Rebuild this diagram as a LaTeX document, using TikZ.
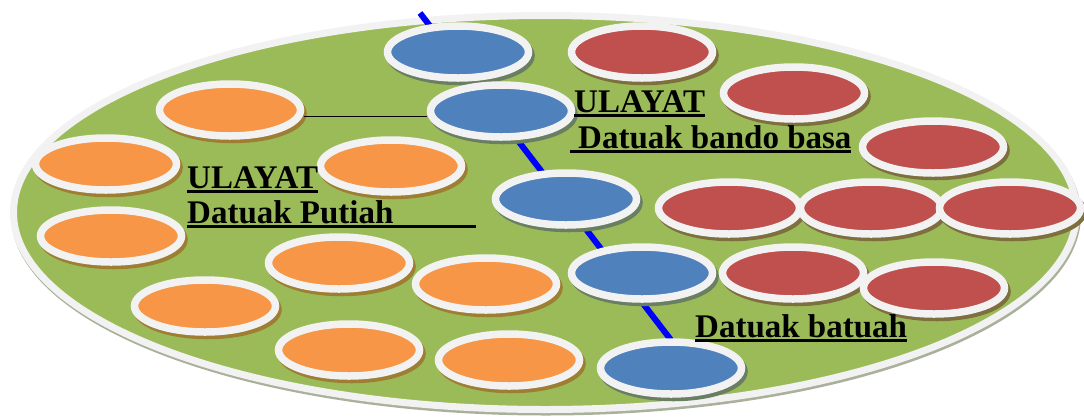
\documentclass[tikz,border=0pt]{standalone}
\usepackage{fontspec}
\setmainfont{Liberation Serif}
\usetikzlibrary{shapes.geometric}
\definecolor{plate}{HTML}{9BBB59}
\definecolor{rim}{HTML}{F2F2F2}
\definecolor{plateshadow}{HTML}{A9B19B}
\definecolor{ofill}{HTML}{F79646}
\definecolor{oshadow}{HTML}{9E7E33}
\definecolor{bfill}{HTML}{4F81BD}
\definecolor{bshadow}{HTML}{6A7E62}
\definecolor{rfill}{HTML}{C0504D}
\definecolor{rshadow}{HTML}{7E6F3E}
\definecolor{pathblue}{HTML}{0000FF}
\newcommand\ulw[2]{\rlap{\rule[-5pt]{#1}{2.8pt}}#2}
\newcommand\ulnat[1]{\setbox0=\hbox{#1}\rlap{\rule[-5pt]{\wd0}{2.8pt}}\box0}
\begin{document}
\begin{tikzpicture}[x=1pt,y=-1pt,
  disc/.style={ellipse, draw=rim, line width=7.5pt, minimum width=141pt, minimum height=52pt, inner sep=0pt},
  odisc/.style={disc, fill=ofill, preaction={draw=oshadow, fill=oshadow, transform canvas={shift={(2.5pt,-3.5pt)}}}},
  bdisc/.style={disc, fill=bfill, preaction={draw=bshadow, fill=bshadow, transform canvas={shift={(2.5pt,-3.5pt)}}}},
  rdisc/.style={disc, fill=rfill, preaction={draw=rshadow, fill=rshadow, transform canvas={shift={(2.5pt,-3.5pt)}}}},
  lbl/.style={anchor=base west, inner sep=0pt, font=\bfseries\fontsize{33}{38}\selectfont},
  blueline/.style={draw=pathblue, line width=6pt},
  thinline/.style={draw=black, line width=1.3pt}]
\useasboundingbox (0,0) rectangle (1084,416);
% plate
\node[ellipse, fill=plate, draw=rim, line width=7pt, minimum width=1063pt, minimum height=394pt, inner sep=0pt,
  preaction={draw=plateshadow, line width=7pt, transform canvas={shift={(1pt,-2.5pt)}}}] (plate) at (545,212.5) {};
% blue ellipses nodes first defined (for line anchor) - draw line after defining coordinate
\coordinate (ltop) at (420,13);
\coordinate (lend) at (671,340);
\draw[blueline] (ltop) -- (lend);
% blue
\node[bdisc] (b1) at (458,52) {};
\node[bdisc] (b2) at (501,111) {};
\node[bdisc] (b3) at (566,199) {};
\node[bdisc] (b4) at (642,273) {};
\node[bdisc] (b5) at (671,368) {};
% red
\node[rdisc] (r1) at (642,52) {};
\node[rdisc] (r2) at (794,93) {};
\node[rdisc] (r3) at (933,147) {};
\node[rdisc] (r4) at (729,208) {};
\node[rdisc] (r5) at (871,208) {};
\node[rdisc] (r6) at (1010,208) {};
\node[rdisc] (r7) at (793,273) {};
\node[rdisc] (r8) at (934,288) {};
% orange
\node[odisc] (o1) at (230,110) {};
\node[odisc] (o2) at (106,164) {};
\node[odisc] (o3) at (391,166) {};
\node[odisc] (o4) at (111,236) {};
\node[odisc] (o5) at (339,263) {};
\node[odisc] (o6) at (205,306) {};
\node[odisc] (o7) at (486,284) {};
\node[odisc] (o8) at (349,350) {};
\node[odisc] (o9) at (509,360) {};
% connector
\draw[thinline] ([yshift=-6.5pt]o1.east) -- ([yshift=-6.5pt]o1.east -| b2.west);
% labels
\node[lbl] (t1) at (187,188) {\ulnat{ULAYAT}};
\node[lbl] (t2) at (187,223) {\ulw{289pt}{Datuak Putiah}};
\node[lbl] (t3) at (574,112) {\ulnat{ULAYAT}};
\node[lbl] (t4) at (570,148) {\ulnat{\hspace*{8pt}Datuak bando basa}};
\node[lbl] (t5) at (695,337) {\ulnat{Datuak batuah}};
\end{tikzpicture}
\end{document}
